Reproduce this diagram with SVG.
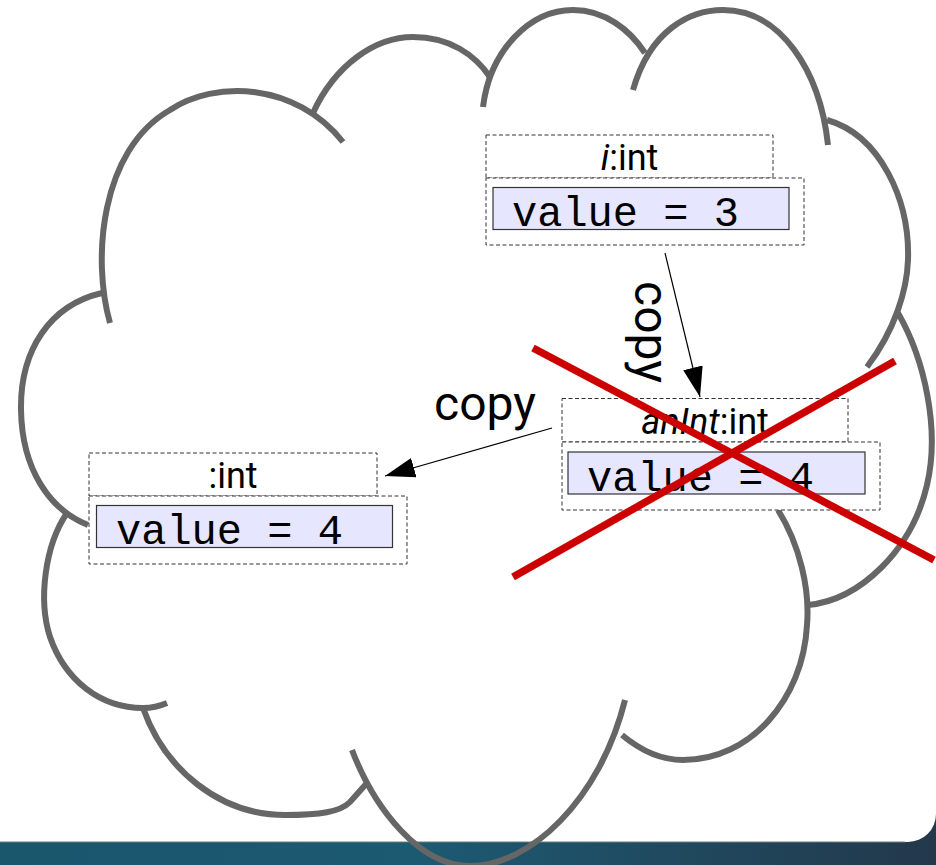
<svg xmlns="http://www.w3.org/2000/svg" width="936" height="865" viewBox="0 0 936 865">
<defs>
<linearGradient id="bar" x1="0" y1="0" x2="1" y2="0">
<stop offset="0" stop-color="#1a566c"/>
<stop offset="0.45" stop-color="#1c5a72"/>
<stop offset="1" stop-color="#23384b"/>
</linearGradient>
<marker id="ah" viewBox="0 0 30 20" refX="30" refY="10" markerWidth="30" markerHeight="20" markerUnits="userSpaceOnUse" orient="auto">
<path d="M0,0 L30,10 L0,20 Z" fill="#000"/>
</marker>
<style>
.cloud{fill:none;stroke:#666;stroke-width:6;stroke-linecap:butt}
.box{fill:#fff;stroke:#333;stroke-width:1;stroke-dasharray:4 2.5}
.val{fill:#e6e6ff;stroke:#333;stroke-width:1.2}
.hdr{font-family:Roboto,"Liberation Sans",sans-serif;font-size:36px;fill:#000;text-anchor:middle}
.mono{font-family:"Liberation Mono","DejaVu Sans Mono",monospace;font-size:42px;fill:#000}
.lbl{font-family:Roboto,"Liberation Sans",sans-serif;font-size:48px;fill:#000}
.conn{stroke:#000;stroke-width:1.2;fill:none;marker-end:url(#ah)}
.cross{stroke:#cc0000;stroke-width:7.5}
</style>
</defs>
<rect x="0" y="0" width="936" height="865" fill="url(#bar)"/>
<rect x="-40" y="-40" width="976" height="882" rx="28" ry="28" fill="#fff"/>
<line x1="0" y1="842" x2="905" y2="842" stroke="#6a7f80" stroke-width="1"/>
<g id="cloud">
<path class="cloud" d="M110,323 C92,260 100,150 170,110 C215,80 295,82 343,142"/>
<path class="cloud" d="M313,113 C335,65 375,37 413,37 C450,37 475,55 490,77"/>
<path class="cloud" d="M483,107 C490,50 530,10 573,10 C605,10 630,30 645,53"/>
<path class="cloud" d="M633,90 C650,30 690,10 723,10 C780,10 820,70 828,145"/>
<path class="cloud" d="M827,120 C880,135 910,200 908,260 C907,290 895,330 867,367"/>
<path class="cloud" d="M898,313 C925,360 940,430 927,485 C912,550 860,600 808,605"/>
<path class="cloud" d="M778,510 C800,545 810,590 807,625 C803,700 750,760 683,760 C660,760 640,750 622,735"/>
<path class="cloud" d="M352,750 C375,810 420,866 470,866 C530,866 600,800 625,700"/>
<path class="cloud" d="M143,708 C165,770 220,815 285,815 C320,815 340,812 350,802 L367,783"/>
<path class="cloud" d="M67,513 C45,545 38,600 50,637 C65,680 100,708 143,708 C152,708 160,706 167,703"/>
<path class="cloud" d="M102,293 C50,305 20,350 21,410 C22,470 50,510 88,525"/>
</g>
<g id="node-i">
<rect class="box" x="486" y="135" width="287" height="43"/>
<rect class="box" x="486" y="178" width="318" height="67"/>
<rect class="val" x="493" y="187.5" width="296" height="42"/>
<text class="hdr" x="629.5" y="170"><tspan font-style="italic">i</tspan>:int</text>
<text class="mono" x="512" y="226">value = 3</text>
</g>
<g id="node-anInt">
<rect class="box" x="562" y="398.5" width="286" height="43.5"/>
<rect class="box" x="562" y="442" width="318" height="68"/>
<rect class="val" x="568" y="452" width="297" height="42"/>
<text class="hdr" x="705" y="433.5"><tspan font-style="italic">anInt</tspan>:int</text>
<text class="mono" x="587" y="490.5">value = 4</text>
</g>
<g id="node-int">
<rect class="box" x="89" y="453" width="288" height="43"/>
<rect class="box" x="89" y="496" width="318" height="68"/>
<rect class="val" x="96.5" y="505.5" width="296" height="42"/>
<text class="hdr" x="233" y="487.5">:int</text>
<text class="mono" x="116" y="544">value = 4</text>
</g>
<g id="connectors">
<line class="conn" x1="665" y1="253" x2="700" y2="397"/>
<line class="conn" x1="552" y1="428" x2="385" y2="476"/>
<text class="lbl" x="434" y="420">copy</text>
<text class="lbl" text-anchor="middle" transform="translate(635,332) rotate(90)">copy</text>
</g>
<g id="cross">
<line class="cross" x1="533" y1="348" x2="934" y2="560"/>
<line class="cross" x1="513" y1="577" x2="895" y2="361"/>
</g>
</svg>
